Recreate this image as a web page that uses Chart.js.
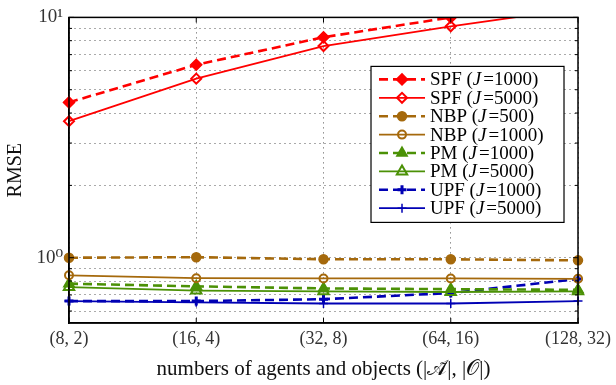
<!DOCTYPE html>
<html lang="en">
    <head>
        <meta charset="utf-8" />
        <script src="https://cdn.jsdelivr.net/npm/chart.js@4.4.1/dist/chart.umd.min.js"></script>
        <title>RMSE vs numbers of agents and objects</title>
        <style>
            body { margin: 0; background: #fff; }
            #wrap { width: 616px; height: 385px; }
        </style>
    </head>
    <body>
        <div id="wrap"><canvas id="rmse"></canvas></div>
        <script>
            var categories = ["(8, 2)", "(16, 4)", "(32, 8)", "(64, 16)", "(128, 32)"];
            var spf1000 = [4.43, 6.35, 8.27, 10.0, 12.0];
            var spf5000 = [3.70, 5.56, 7.60, 9.18, 10.9];
            var nbp500 = [1.0, 1.005, 0.985, 0.985, 0.975];
            var nbp1000 = [0.845, 0.822, 0.82, 0.82, 0.817];
            var pm1000 = [0.78, 0.76, 0.745, 0.74, 0.735];
            var pm5000 = [0.755, 0.73, 0.725, 0.72, 0.725];
            var upf1000 = [0.66, 0.66, 0.672, 0.713, 0.815];
            var upf5000 = [0.66, 0.652, 0.645, 0.645, 0.66];
            var yTicks = [0.6, 0.7, 0.8, 0.9, 1, 2, 3, 4, 5, 6, 7, 8, 9, 10];

            var RED = "#ff0000", BROWN = "#a5690c", GREEN = "#4b9106", BLUE = "#0000b4";
            var SERIF = '"Liberation Serif", "DejaVu Serif", serif';

            function serie(name, J, data, color, dashed, style, filled, radius, bw) {
                return {
                    label: name, J: J, data: data,
                    borderColor: color,
                    backgroundColor: color,
                    borderWidth: dashed ? 2.6 : 1.8,
                    borderDash: dashed ? [9, 5] : [],
                    pointStyle: style,
                    pointRadius: radius,
                    pointBorderWidth: bw,
                    pointBackgroundColor: filled ? color : "rgba(0,0,0,0)",
                    pointBorderColor: color,
                    tension: 0,
                    clip: { left: 10, right: 10, bottom: 10, top: 0 },
                };
            }

            var datasets = [
                serie("SPF", "1000", spf1000, RED, true, "rectRot", true, 5.5, 1.5),
                serie("SPF", "5000", spf5000, RED, false, "rectRot", false, 5, 2),
                serie("NBP", "500", nbp500, BROWN, true, "circle", true, 4.5, 1.5),
                serie("NBP", "1000", nbp1000, BROWN, false, "circle", false, 4, 2),
                serie("PM", "1000", pm1000, GREEN, true, "triangle", true, 6, 1.5),
                serie("PM", "5000", pm5000, GREEN, false, "triangle", false, 6, 2),
                serie("UPF", "1000", upf1000, BLUE, true, "cross", true, 4.5, 3),
                serie("UPF", "5000", upf5000, BLUE, false, "cross", false, 4.5, 1.5),
            ];

            // frame + inward tick marks + boxed legend with line samples
            var frameLegend = {
                id: "frameLegend",
                afterDraw(chart) {
                    var ctx = chart.ctx, a = chart.chartArea;
                    var ys = chart.scales.y, xs = chart.scales.x;
                    ctx.save();
                    ctx.strokeStyle = "#000";
                    ctx.lineWidth = 1.5;
                    ctx.strokeRect(a.left, a.top, a.right - a.left, a.bottom - a.top);
                    ctx.lineWidth = 1;
                    ctx.beginPath();
                    yTicks.forEach(v => {
                        var y = ys.getPixelForValue(v);
                        var len = (v === 1 || v === 10) ? 5 : 3;
                        ctx.moveTo(a.left, y); ctx.lineTo(a.left + len, y);
                        ctx.moveTo(a.right, y); ctx.lineTo(a.right - len, y);
                    });
                    categories.forEach((c, i) => {
                        var x = xs.getPixelForValue(i);
                        ctx.moveTo(x, a.bottom); ctx.lineTo(x, a.bottom - 5);
                        ctx.moveTo(x, a.top); ctx.lineTo(x, a.top + 5);
                    });
                    ctx.stroke();

                    // legend box
                    var bx = a.right - 207, by = a.top + 49, bw = 193, bh = 156;
                    ctx.fillStyle = "#fff";
                    ctx.fillRect(bx, by, bw, bh);
                    ctx.strokeStyle = "#000";
                    ctx.lineWidth = 1.2;
                    ctx.strokeRect(bx, by, bw, bh);
                    ctx.textBaseline = "middle";
                    chart.data.datasets.forEach((d, i) => {
                        var y = by + 13 + i * 18.4;
                        ctx.save();
                        ctx.strokeStyle = d.borderColor;
                        ctx.lineWidth = d.borderWidth;
                        ctx.setLineDash(d.borderDash);
                        ctx.beginPath();
                        ctx.moveTo(bx + 8, y); ctx.lineTo(bx + 54, y);
                        ctx.stroke();
                        ctx.setLineDash([]);
                        ctx.fillStyle = d.pointBackgroundColor;
                        ctx.lineWidth = d.pointBorderWidth;
                        Chart.helpers.drawPoint(ctx, {
                            pointStyle: d.pointStyle, radius: d.pointRadius,
                            borderWidth: d.pointBorderWidth, rotation: 0
                        }, bx + 31, y);
                        ctx.restore();
                        var tx = bx + 59;
                        ctx.fillStyle = "#000";
                        ctx.font = "19px " + SERIF;
                        var s1 = d.label + " (";
                        ctx.fillText(s1, tx, y + 1);
                        tx += ctx.measureText(s1).width;
                        ctx.font = "italic 19px " + SERIF;
                        ctx.fillText("J", tx, y + 1);
                        tx += ctx.measureText("J").width + 2;
                        ctx.font = "19px " + SERIF;
                        ctx.fillText("=" + d.J + ")", tx, y + 1);
                    });
                    ctx.restore();
                },
            };

            new Chart(document.getElementById("rmse").getContext("2d"), {
                type: "line",
                data: { labels: categories, datasets: datasets },
                plugins: [frameLegend],
                options: {
                    responsive: true,
                    maintainAspectRatio: false,
                    animation: false,
                    layout: { padding: { left: 0, right: 34, top: 14, bottom: 0 } },
                    plugins: { legend: { display: false }, tooltip: { enabled: false } },
                    scales: {
                        x: {
                            type: "category",
                            offset: false,
                            afterFit: s => { s.height = 62; },
                            grid: { color: "#555", lineWidth: 1, drawTicks: false },
                            border: { display: true, color: "#000", width: 1.5, dash: [1, 4] },
                            ticks: { color: "#333", padding: 5, font: { family: SERIF, size: 18 }, maxRotation: 0 },
                            title: {
                                display: true,
                                text: "numbers of agents and objects (|𝒜̃|, |𝒪|)",
                                color: "#111",
                                font: { family: SERIF, size: 21 },
                                padding: { top: 0, bottom: 3 },
                            },
                        },
                        y: {
                            type: "logarithmic",
                            min: 0.535,
                            max: 10,
                            afterFit: s => { s.width = 69; },
                            afterBuildTicks: s => { s.ticks = yTicks.map(v => ({ value: v, major: v === 1 || v === 10 })); },
                            grid: { color: "#555", lineWidth: 1, drawTicks: false },
                            border: { display: true, color: "#000", width: 1.5, dash: [1, 4] },
                            ticks: {
                                autoSkip: false,
                                color: "#333",
                                padding: 6,
                                font: { family: SERIF, size: 19 },
                                callback: v => (v === 1 ? "10⁰" : v === 10 ? "10¹" : ""),
                            },
                            title: {
                                display: true,
                                text: "RMSE",
                                color: "#111",
                                font: { family: SERIF, size: 20 },
                                padding: { top: 4, bottom: 0 },
                            },
                        },
                    },
                },
            });
        </script>
    </body>
</html>
